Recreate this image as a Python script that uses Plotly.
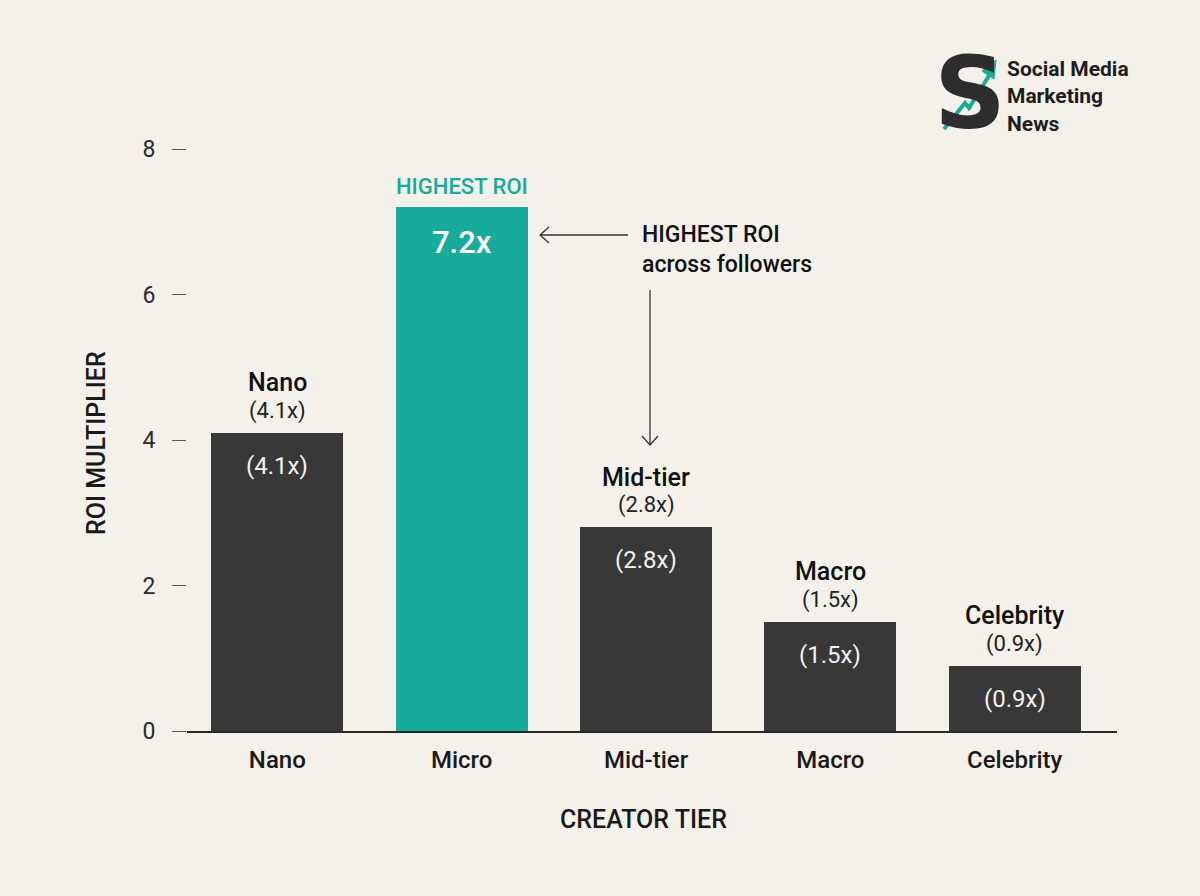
import plotly.graph_objects as go

tiers = ["Nano", "Micro", "Mid-tier", "Macro", "Celebrity"]
roi = [4.1, 7.2, 2.8, 1.5, 0.9]
roi_labels = ["(4.1x)", "7.2x", "(2.8x)", "(1.5x)", "(0.9x)"]
y_ticks = [0, 2, 4, 6, 8]
callout_lines = ["HIGHEST ROI", "across followers"]
logo_lines = ["Social Media", "Marketing", "News"]

BG = "#f4f1ea"
DARK = "#383838"
TEAL = "#17ab9b"
FONT = "Roboto"

colors = [TEAL if t == "Micro" else DARK for t in tiers]

fig = go.Figure()
fig.add_trace(go.Bar(
    x=tiers, y=roi, marker=dict(color=colors, line=dict(width=0)),
    width=0.715, hoverinfo="skip",
))

# plot area geometry (pixels) for helpers
L, R, T, B = 187, 1117, 149, 731
XR = [-0.49, 4.555]
YR = [0, 8]

def px2x(px):
    return XR[0] + (px - L) / (R - L) * (XR[1] - XR[0])

def py2y(py):
    return YR[0] + (B - py) / (B - T) * (YR[1] - YR[0])

def paper(px, py):
    return (px - L) / (R - L), (B - py) / (B - T)

ann = []
for i, (t, v, lab) in enumerate(zip(tiers, roi, roi_labels)):
    if t == "Micro":
        ann.append(dict(x=i, y=v, text="HIGHEST ROI", showarrow=False, yshift=21,
                        font=dict(family=FONT, size=22, color=TEAL, weight=500)))
        ann.append(dict(x=i, y=v, text=lab, showarrow=False, yshift=-35,
                        font=dict(family=FONT, size=31, color="white", weight=500)))
    else:
        ann.append(dict(x=i, y=v, text=t, showarrow=False, yshift=50,
                        font=dict(family=FONT, size=25, color="#111", weight=500)))
        ann.append(dict(x=i, y=v, text=lab, showarrow=False, yshift=22,
                        font=dict(family=FONT, size=22, color="#222")))
        ann.append(dict(x=i, y=v, text=lab, showarrow=False, yshift=-33,
                        font=dict(family=FONT, size=24, color="#f2f2f2")))

# callout text
ann.append(dict(x=px2x(640), y=py2y(249), text="<br>".join(callout_lines),
                showarrow=False, xanchor="left", yanchor="middle", align="left",
                font=dict(family=FONT, size=23, color="#111", weight=500)))

# axis titles
px, py = paper(96, 443)
ann.append(dict(xref="paper", yref="paper", x=px, y=py, xanchor="center", yanchor="middle",
                text="ROI MULTIPLIER", textangle=-90, showarrow=False,
                font=dict(family=FONT, size=25, color="#1a1a1a", weight=500)))
px, py = paper(643, 820)
ann.append(dict(xref="paper", yref="paper", x=px, y=py, xanchor="center", yanchor="middle",
                text="CREATOR TIER", showarrow=False,
                font=dict(family=FONT, size=25, color="#1a1a1a", weight=500)))

# logo
px, py = paper(1005, 96)
ann.append(dict(xref="paper", yref="paper", x=px, y=py,
                text="<br>".join(logo_lines), showarrow=False,
                xanchor="left", yanchor="middle", align="left",
                font=dict(family=FONT, size=21, color="#1e1e1e", weight=700)))
px, py = paper(970, 94)
ann.append(dict(xref="paper", yref="paper", x=px, y=py,
                text="S", showarrow=False, xanchor="center", yanchor="middle",
                font=dict(family="DejaVu Sans", size=100, color="#2d2d2d", weight=900)))

shapes = []
line_col = "#333"
# horizontal arrow
shapes.append(dict(type="line", xref="x", yref="y", x0=px2x(628), y0=py2y(235),
                   x1=px2x(540), y1=py2y(235), line=dict(color=line_col, width=1.3)))
shapes.append(dict(type="path", xref="x", yref="y",
                   path=f"M {px2x(549)} {py2y(227)} L {px2x(540)} {py2y(235)} L {px2x(549)} {py2y(243)}",
                   line=dict(color=line_col, width=1.3)))
# vertical arrow
shapes.append(dict(type="line", xref="x", yref="y", x0=px2x(650), y0=py2y(290),
                   x1=px2x(650), y1=py2y(445), line=dict(color=line_col, width=1.3)))
shapes.append(dict(type="path", xref="x", yref="y",
                   path=f"M {px2x(642)} {py2y(436)} L {px2x(650)} {py2y(445)} L {px2x(658)} {py2y(436)}",
                   line=dict(color=line_col, width=1.3)))
# logo teal arrow
pts = [(944, 129), (965, 103), (969, 108), (990, 74)]
path = "M " + " L ".join(f"{paper(a, b)[0]} {paper(a, b)[1]}" for a, b in pts)
shapes.append(dict(type="path", xref="paper", yref="paper", path=path,
                   line=dict(color=TEAL, width=4)))
head = [(996, 60), (982, 71), (994, 79)]
path = "M " + " L ".join(f"{paper(a, b)[0]} {paper(a, b)[1]}" for a, b in head) + " Z"
shapes.append(dict(type="path", xref="paper", yref="paper", path=path,
                   fillcolor=TEAL, line=dict(color=TEAL, width=1)))

fig.update_layout(
    width=1200, height=896,
    paper_bgcolor=BG, plot_bgcolor=BG,
    margin=dict(l=L, r=1200 - R, t=T, b=896 - B),
    showlegend=False,
    annotations=ann, shapes=shapes,
    font=dict(family=FONT),
    bargap=0,
)
fig.update_xaxes(
    range=XR, showgrid=False, zeroline=False,
    showline=True, linecolor="#2a2a2a", linewidth=1.5,
    ticks="", tickfont=dict(family=FONT, size=24, color="#1a1a1a", weight=500),
    ticklabelstandoff=6,
)
fig.update_yaxes(
    range=YR, tickvals=y_ticks, showgrid=False, zeroline=False, showline=False,
    ticks="outside", ticklen=14, tickcolor="#555", tickwidth=1,
    tickfont=dict(family=FONT, size=23, color="#2a2a2a"),
    ticklabelstandoff=12,
)

fig.write_html("out.html")
